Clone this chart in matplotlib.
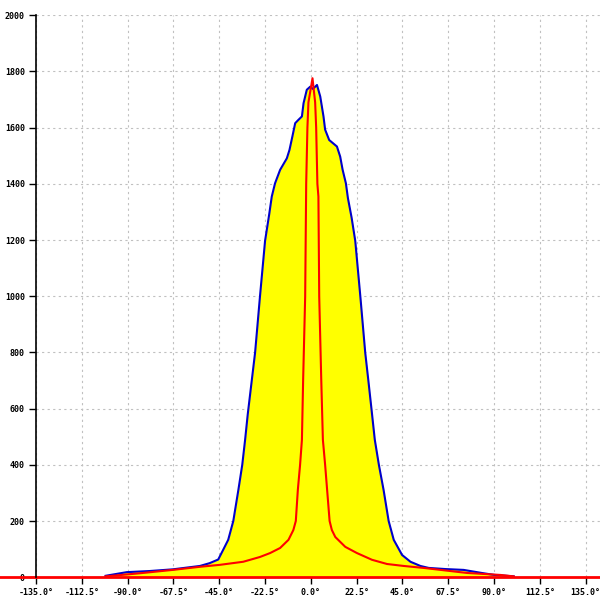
import numpy as np
import matplotlib
matplotlib.use('Agg')
import matplotlib.pyplot as plt

# широкая кривая (жёлтая заливка, синий контур)
angle_wide = [-100.8, -90.4, -79.1, -67.8, -54.5, -49.7, -45.5, -43.1, -40.6, -38.1,
              -35.6, -33.7, -32.3, -31.0, -29.0, -27.4, -25.0, -22.5, -20.5, -19.2,
              -17.6, -15.1, -11.8, -10.5, -9.1, -7.7, -6.1, -4.4, -3.6, -2.0,
              -0.3, 1.0, 3.0, 4.6, 6.2, 7.0, 9.0, 12.8, 14.4, 15.6,
              17.2, 18.2, 20.0, 21.8, 24.3, 26.7, 28.2, 29.7, 31.4, 33.4,
              35.7, 38.2, 40.7, 44.8, 48.9, 53.8, 57.9, 66.0, 75.0, 84.8,
              90.2, 99.6]
value_wide = [5, 18, 22, 28, 40, 50, 63, 97, 133, 200,
              311, 400, 489, 580, 702, 799, 999, 1197, 1290, 1355,
              1402, 1450, 1491, 1521, 1568, 1616, 1628, 1640, 1687, 1735,
              1746, 1738, 1752, 1711, 1640, 1593, 1556, 1533, 1497, 1450,
              1402, 1349, 1280, 1197, 999, 799, 702, 603, 489, 400,
              311, 200, 133, 79, 55, 40, 33, 29, 26, 14,
              8, 3]

# узкая кривая (красная)
angle_narrow = [-100.8, -84.0, -67.8, -54.5, -44.7, -33.2, -25.0, -20.0, -15.1, -11.0,
                -8.6, -7.4, -6.4, -5.3, -4.4, -3.8, -2.8, -2.3, -1.7, -1.2,
                0.8, 2.1, 2.6, 3.2, 3.7, 4.1, 5.1, 5.9, 7.0, 9.2,
                10.3, 12.0, 16.9, 22.6, 30.0, 37.4, 45.6, 55.4, 63.7, 76.8,
                93.2, 99.6]
value_narrow = [3, 14, 26, 37, 44, 55, 72, 86, 104, 133,
                168, 200, 311, 400, 489, 702, 999, 1400, 1600, 1690,
                1776, 1690, 1600, 1400, 1355, 999, 702, 489, 400, 200,
                168, 143, 108, 86, 62, 47, 40, 33, 26, 15,
                8, 3]

x_ticks = [-135, -112.5, -90, -67.5, -45, -22.5, 0, 22.5, 45, 67.5, 90, 112.5, 135]
y_ticks = list(range(0, 2001, 200))

fig = plt.figure(figsize=(6, 6), dpi=100)
ax = fig.add_axes([0.06, 0.038, 0.94, 0.9365])

ax.fill_between(angle_wide, value_wide, 0, color='#ffff00', lw=0, zorder=2)
ax.plot(angle_wide, value_wide, color='#0000cc', lw=1.5, zorder=3)
ax.plot(angle_narrow, value_narrow, color='#ff0000', lw=1.5, zorder=4)
ax.axhline(0, xmin=-0.07, xmax=1, color='#ff0000', lw=2, clip_on=False, zorder=5)

ax.set_xlim(-135, 142)
ax.set_ylim(0, 2000)
ax.set_xticks(x_ticks)
ax.set_xticklabels([f'{t:.1f}°' for t in x_ticks])
ax.set_yticks(y_ticks)
ax.set_yticklabels([str(t) for t in y_ticks])

ax.grid(True, color='#c0c0c0', linestyle=(0, (2, 3)), lw=0.8, zorder=1)
for s in ['top', 'right', 'bottom']:
    ax.spines[s].set_visible(False)
ax.spines['left'].set_linewidth(1.2)
ax.spines['left'].set_zorder(6)
ax.tick_params(length=5, width=1, pad=3, labelsize=6)
for lbl in ax.get_xticklabels() + ax.get_yticklabels():
    lbl.set_family('DejaVu Sans Mono')
    lbl.set_fontweight('bold')

fig.savefig('out.png', dpi=100)
